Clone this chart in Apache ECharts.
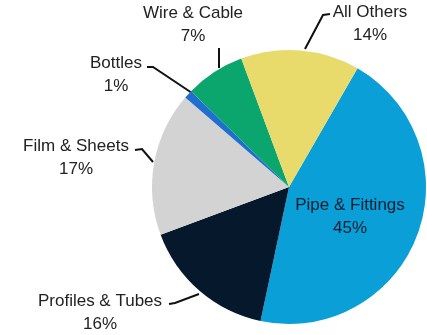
<!DOCTYPE html>
<html>
<head>
<meta charset="utf-8">
<script src="https://cdn.jsdelivr.net/npm/echarts@6/dist/echarts.min.js"></script>
<style>html,body{margin:0;padding:0;background:#fff}#c{width:427px;height:335px}</style>
</head>
<body>
<div id="c"></div>
<script>
const categories = ['Pipe & Fittings', 'Profiles & Tubes', 'Film & Sheets', 'Bottles', 'Wire & Cable', 'All Others'];
const shares = [45, 16, 17, 1, 7, 14];
const colors = ['#0a9fd6', '#06182c', '#d3d3d3', '#1e6fd0', '#0ba56e', '#e8db6b'];

// label placement (text centre) and leader line points
const labelPos = [
  { x: 350, y: 217, line: null },
  { x: 100, y: 313, line: [[169, 304], [175, 303], [199, 294]] },
  { x: 76, y: 158, line: [[135, 150], [142, 149], [153, 162]] },
  { x: 116, y: 75, line: [[147, 67], [153, 67], [192, 93]] },
  { x: 193, y: 25, line: [[219, 48], [219, 48], [219, 68]] },
  { x: 370, y: 24, line: [[330, 14], [323, 15], [305, 49]] }
];

const chart = echarts.init(document.getElementById('c'), null, { renderer: 'canvas' });
chart.setOption({
  animation: false,
  series: [{
    type: 'pie',
    center: [289, 187],
    radius: [0, 137],
    startAngle: 60,
    clockwise: true,
    avoidLabelOverlap: false,
    data: categories.map((n, i) => ({
      name: n,
      value: shares[i],
      itemStyle: { color: colors[i] },
      label: i === 0 ? { position: 'inside', color: '#0a1e33' } : {},
      labelLine: { show: i !== 0 }
    })),
    label: {
      show: true,
      position: 'outside',
      formatter: '{b}\n{c}%',
      fontFamily: 'Liberation Sans, Arial, sans-serif',
      fontSize: 17,
      lineHeight: 23,
      color: '#222',
      align: 'center'
    },
    labelLine: {
      show: true,
      lineStyle: { color: '#111', width: 2 }
    },
    labelLayout: function (p) {
      const lp = labelPos[p.dataIndex];
      const o = { x: lp.x, y: lp.y, align: 'center', verticalAlign: 'middle' };
      if (lp.line) o.labelLinePoints = lp.line;
      return o;
    }
  }]
});
</script>
</body>
</html>
